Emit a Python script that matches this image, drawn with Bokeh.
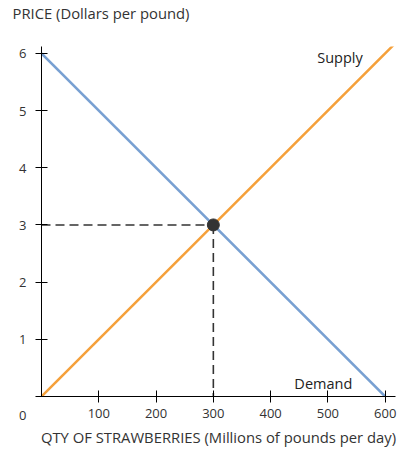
from bokeh.plotting import figure
from bokeh.models import FixedTicker, Label, Range1d, Title
from bokeh.embed import file_html
from bokeh.resources import INLINE

# Data
supply_qty = [0, 617]
supply_price = [0, 6.17]
demand_qty = [0, 600]
demand_price = [6, 0]
eq_qty = 300
eq_price = 3
x_ticks = [100, 200, 300, 400, 500, 600]
y_ticks = [0, 1, 2, 3, 4, 5, 6]
y_tick_labels = {0: "\u00a0\n\u00a0\n0"}
title_text = "PRICE (Dollars per pound)"

FONT = "Open Sans"
TXT = "#333333"

p = figure(width=412, height=456, output_backend="svg", toolbar_location=None,
           x_range=Range1d(0, 618), y_range=Range1d(0, 6.12),
           min_border_left=41, min_border_right=17, min_border_top=45, min_border_bottom=60)
p.outline_line_color = None
p.grid.visible = False
p.background_fill_color = "white"

for ax in (p.xaxis[0], p.yaxis[0]):
    ax.axis_line_color = "black"
    ax.axis_line_width = 1
    ax.major_tick_line_color = "black"
    ax.major_tick_in = 6
    ax.major_tick_out = 6
    ax.minor_tick_line_color = None
    ax.major_label_text_font = FONT
    ax.major_label_text_font_size = "13px"
    ax.major_label_text_color = TXT

p.xaxis.ticker = FixedTicker(ticks=x_ticks)
p.yaxis.ticker = FixedTicker(ticks=y_ticks)
p.yaxis.major_label_overrides = y_tick_labels
p.yaxis.major_label_text_line_height = 1.0
p.xaxis.major_label_standoff = 6
p.yaxis.major_label_standoff = 9
p.xaxis.axis_label = "QTY OF STRAWBERRIES (Millions of pounds per day)"
p.xaxis.axis_label_text_font = FONT
p.xaxis.axis_label_text_font_size = "14.8px"
p.xaxis.axis_label_text_font_style = "normal"
p.xaxis.axis_label_text_color = TXT
p.xaxis.axis_label_standoff = 6

# spacer panel (nearest the frame), then the title above it
p.add_layout(Title(text="\u00a0", standoff=2, text_font=FONT, text_font_size="14.8px",
                   text_font_style="normal", text_color="white"), "above")
p.add_layout(Title(text=title_text, align="left", offset=-29, standoff=0,
                   vertical_align="bottom", text_font=FONT, text_font_size="14.8px",
                   text_font_style="normal", text_color=TXT), "above")

# dashed equilibrium guides
p.line([0, eq_qty], [eq_price, eq_price], line_color="#333333", line_width=1.6, line_dash="9 5")
p.line([eq_qty, eq_qty], [eq_price, 0], line_color="#333333", line_width=1.6, line_dash="9 5")

p.line(demand_qty, demand_price, line_color="#78a0d2", line_width=2.5)
p.line(supply_qty, supply_price, line_color="#f5a03a", line_width=2.5)
p.scatter([eq_qty], [eq_price], size=12, color="#333333")

p.add_layout(Label(x=521, y=5.93, text="Supply", text_font=FONT, text_font_size="14.5px",
                   text_color="#222222", text_align="center", text_baseline="middle"))
p.add_layout(Label(x=492, y=0.23, text="Demand", text_font=FONT, text_font_size="14.5px",
                   text_color="#222222", text_align="center", text_baseline="middle"))

open("out.html", "w").write(file_html(p, INLINE))
